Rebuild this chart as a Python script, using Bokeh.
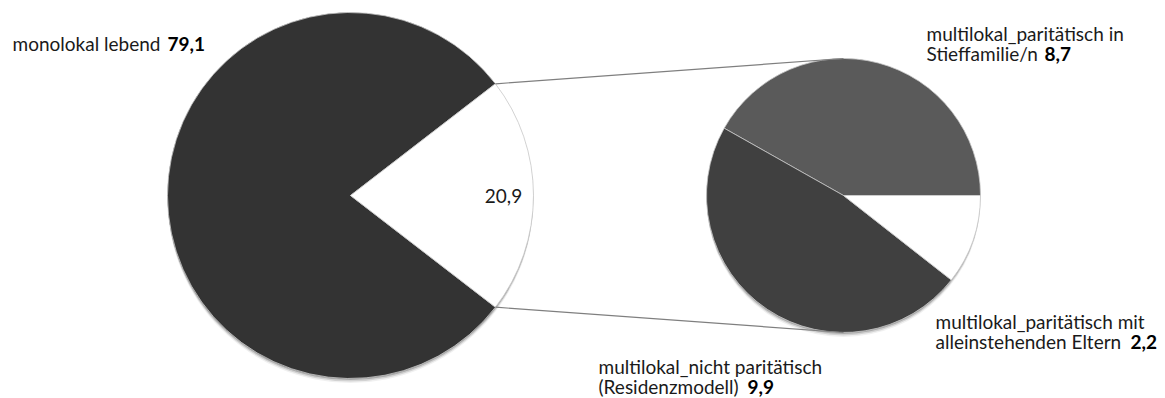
import numpy as np
from bokeh.plotting import figure
from bokeh.models import Range1d
from bokeh.core.properties import value
from bokeh.embed import file_html
from bokeh.resources import INLINE

W, H = 1165, 398

# Main pie: living in one household vs. several households (percent)
main_labels = ["monolokal lebend", "multilokal"]
main_values = [79.1, 20.9]
main_colors = ["#333333", "#ffffff"]

# Breakdown of the multilocal share, counter-clockwise from 3 o'clock
sub_labels = [
    "multilokal_paritätisch in Stieffamilie/n",
    "multilokal_nicht paritätisch (Residenzmodell)",
    "multilokal_paritätisch mit alleinstehenden Eltern",
]
sub_values = [8.7, 9.9, 2.2]
sub_colors = ["#5a5a5a", "#404040", "#ffffff"]

FONT = "Lato"
FONT_SIZE = "19px"
TEXT_COLOR = "#1a1a1a"
BASELINE_SHIFT = 6  # alphabetic baseline sits a little low in the svg output


def sy(y):
    """Convert a top-down pixel row to the upward data axis."""
    return H - y


p = figure(width=W, height=H, x_range=Range1d(0, W), y_range=Range1d(0, H),
           output_backend="svg", toolbar_location=None, min_border=0)
p.axis.visible = False
p.grid.visible = False
p.outline_line_color = None
p.background_fill_color = "white"
p.border_fill_color = "white"

# ---- geometry of both pies ----
mcx, mcy, mr = 350, sy(195), 183
scx, scy, sr = 843, sy(195), 137

# main pie: the multilocal slice is centred on the 3 o'clock direction
half = np.pi * main_values[1] / sum(main_values)
main_start = [half, -half]
main_end = [2 * np.pi - half, half]

# secondary pie: cumulative angles from 0
sub_frac = np.array(sub_values) / sum(sub_values) * 2 * np.pi
sub_end = np.cumsum(sub_frac)
sub_start = sub_end - sub_frac


def shadow(cx, cy, r):
    for dy, a in [(1.5, 0.20), (3.0, 0.12), (4.5, 0.06)]:
        p.circle(x=[cx], y=[cy - dy], radius=r, fill_color="black",
                 fill_alpha=a, line_color=None)


shadow(mcx, mcy, mr)
shadow(scx, scy, sr)

p.wedge(x=mcx, y=mcy, radius=mr, start_angle=main_start, end_angle=main_end,
        fill_color=main_colors, line_color="#c8c8c8", line_width=0.8)
p.wedge(x=scx, y=scy, radius=sr, start_angle=list(sub_start),
        end_angle=list(sub_end), fill_color=sub_colors,
        line_color="#c8c8c8", line_width=0.8)

# connector lines from the split slice to the top and bottom of the second pie
ux, uy = mcx + mr * np.cos(half), mcy + mr * np.sin(half)
lx, ly = mcx + mr * np.cos(-half), mcy + mr * np.sin(-half)
p.segment(x0=[ux, lx], y0=[uy, ly], x1=[scx, scx], y1=[scy + sr, scy - sr],
          line_color="#7f7f7f", line_width=1.2)


def txt(x, y, s, bold=False, size=FONT_SIZE, align="left", baseline="alphabetic"):
    if baseline == "alphabetic":
        y -= BASELINE_SHIFT
    p.text(x=[x], y=[sy(y)], text=[s], text_font=value(FONT),
           text_font_size=size, text_color="#000000" if bold else TEXT_COLOR,
           text_font_style="bold" if bold else "normal",
           text_align=align, text_baseline=baseline)


def fmt(v):
    return f"{v:.1f}".replace(".", ",")


# main pie labels
txt(12, 49, main_labels[0])
txt(167, 49, fmt(main_values[0]), bold=True)
txt(503, 195, fmt(main_values[1]), size="19px", align="center", baseline="middle")

# secondary pie labels
txt(926, 39, "multilokal_paritätisch in")
txt(926, 59, "Stieffamilie/n")
txt(1044, 59, fmt(sub_values[0]), bold=True)

txt(935, 327, "multilokal_paritätisch mit")
txt(935, 347, "alleinstehenden Eltern")
txt(1130, 347, fmt(sub_values[2]), bold=True)

txt(598, 372, "multilokal_nicht paritätisch")
txt(598, 392, "(Residenzmodell)")
txt(747, 392, fmt(sub_values[1]), bold=True)

open("out.html", "w").write(file_html(p, INLINE))
